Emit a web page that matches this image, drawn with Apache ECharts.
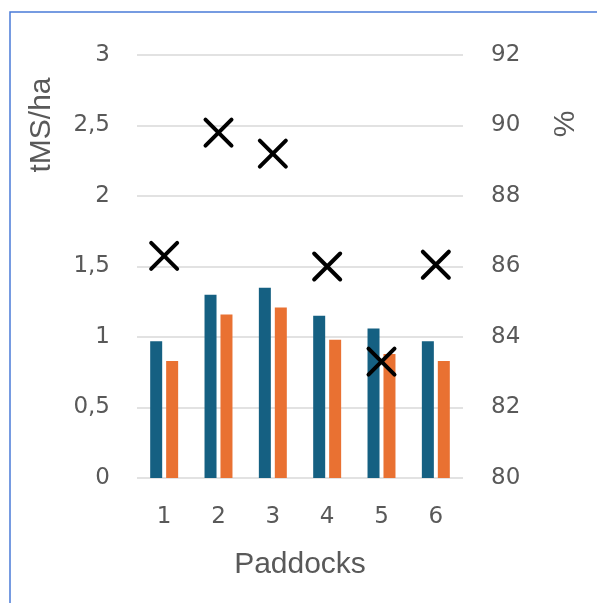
<!DOCTYPE html>
<html>
<head>
<meta charset="utf-8">
<script src="https://cdn.jsdelivr.net/npm/echarts@6/dist/echarts.min.js"></script>
<style>
html,body{margin:0;padding:0;background:#fff;}
#chart{width:597px;height:603px;}
</style>
</head>
<body>
<div id="chart"></div>
<script>
var categories = ['1', '2', '3', '4', '5', '6'];
var blueValues = [0.97, 1.30, 1.35, 1.15, 1.06, 0.97];
var orangeValues = [0.83, 1.16, 1.21, 0.98, 0.88, 0.83];
var percentValues = [86.3, 89.8, 89.2, 86.0, 83.3, 86.05];
var leftAxisTitle = 'tMS/ha';
var rightAxisTitle = '%';
var xAxisTitle = 'Paddocks';

var textColor = '#595959';
var tickFont = 'DejaVu Sans';
var titleFont = 'Liberation Sans';

var chart = echarts.init(document.getElementById('chart'), null, {renderer: 'canvas'});
chart.setOption({
  animation: false,
  backgroundColor: '#ffffff',
  grid: {left: 137, right: 134, top: 55, bottom: 125},
  xAxis: {
    type: 'category',
    data: categories,
    axisLine: {show: false},
    axisTick: {show: false},
    axisLabel: {color: textColor, fontFamily: tickFont, fontSize: 23, margin: 28},
    name: xAxisTitle,
    nameLocation: 'middle',
    nameGap: 72,
    nameTextStyle: {color: textColor, fontFamily: titleFont, fontSize: 30}
  },
  yAxis: [{
    type: 'value',
    min: 0, max: 3, interval: 0.5,
    axisLine: {show: false},
    axisTick: {show: false},
    splitLine: {lineStyle: {color: '#D9D9D9', width: 1.5}},
    axisLabel: {
      color: textColor, fontFamily: tickFont, fontSize: 23, margin: 27,
      formatter: function (v) { return String(v).replace('.', ','); }
    }
  }, {
    type: 'value',
    min: 80, max: 92, interval: 2,
    position: 'right',
    axisLine: {show: false},
    axisTick: {show: false},
    splitLine: {show: false},
    axisLabel: {color: textColor, fontFamily: tickFont, fontSize: 23, margin: 28}
  }],
  series: [{
    type: 'bar',
    data: blueValues,
    barWidth: 12,
    barGap: '33%',
    itemStyle: {color: '#156082'}
  }, {
    type: 'bar',
    data: orangeValues,
    barWidth: 12,
    itemStyle: {color: '#E97132'}
  }, {
    type: 'scatter',
    yAxisIndex: 1,
    data: percentValues,
    symbol: 'path://M0,0L10,10M10,0L0,10',
    symbolSize: 26,
    itemStyle: {color: 'none', borderColor: '#000000', borderWidth: 4, borderCap: 'round', opacity: 1},
    z: 5
  }],
  graphic: [{
    type: 'rect',
    shape: {x: 10, y: 12, width: 700, height: 700},
    style: {fill: 'none', stroke: '#4A7BD8', lineWidth: 1.5},
    silent: true
  }, {
    type: 'text',
    x: 42, y: 125,
    rotation: Math.PI / 2,
    style: {text: leftAxisTitle, fill: textColor, font: '30px "Liberation Sans"', align: 'center', verticalAlign: 'middle'}
  }, {
    type: 'text',
    x: 566, y: 124,
    rotation: Math.PI / 2,
    style: {text: rightAxisTitle, fill: textColor, font: '30px "Liberation Sans"', align: 'center', verticalAlign: 'middle'}
  }]
});
</script>
</body>
</html>
